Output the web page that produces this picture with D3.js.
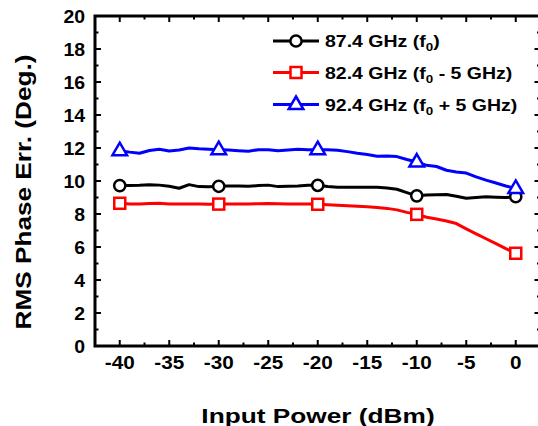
<!DOCTYPE html>
<html><head><meta charset="utf-8">
<script src="https://cdn.jsdelivr.net/npm/d3@7"></script>
<style>body{margin:0;background:#fff}svg{display:block}text{font-family:"Liberation Sans",Arial,sans-serif;font-weight:bold;fill:#000}</style>
</head><body><svg id="c" width="538" height="426"></svg>
<script>
const power = d3.range(-40, 1, 1);
const markerPower = [-40, -30, -20, -10, 0];
const black874 = [9.72,9.73,9.74,9.78,9.75,9.68,9.56,9.78,9.66,9.65,9.68,9.70,9.70,9.68,9.72,9.75,9.66,9.68,9.70,9.74,9.74,9.66,9.62,9.62,9.62,9.62,9.62,9.58,9.50,9.30,9.10,9.15,9.17,9.18,9.08,8.95,9.00,9.05,9.02,9.00,9.05];
const red824 = [8.65,8.60,8.60,8.63,8.65,8.60,8.60,8.60,8.60,8.59,8.60,8.60,8.60,8.61,8.62,8.64,8.62,8.60,8.60,8.60,8.59,8.56,8.53,8.50,8.47,8.44,8.40,8.34,8.25,8.10,7.98,7.80,7.70,7.58,7.42,7.10,6.80,6.50,6.20,5.90,5.62];
const blue924 = [11.84,11.75,11.68,11.85,11.93,11.82,11.88,12.0,11.95,11.92,11.90,11.88,11.84,11.80,11.90,11.90,11.84,11.88,11.92,11.90,11.90,11.90,11.86,11.78,11.68,11.60,11.50,11.52,11.48,11.30,11.15,10.95,10.88,10.65,10.55,10.48,10.25,10.05,9.88,9.70,9.55];
const xTicks = [-40,-35,-30,-25,-20,-15,-10,-5,0];
const yTicks = [0,2,4,6,8,10,12,14,16,18,20];
const seriesNames = ["87.4 GHz (f", "82.4 GHz (f", "92.4 GHz (f"];
const seriesSuffix = [")", " - 5 GHz)", " + 5 GHz)"];
const colors = ["#000000", "#ff0000", "#0000ff"];
const shapes = ["circle", "square", "triangle"];

const svg = d3.select("#c");
const L = 95, R = 540.5, T = 16, B = 346;
const x = d3.scaleLinear().domain([-42.5, 2.5]).range([L, R]);
const y = d3.scaleLinear().domain([0, 20]).range([B, T]);

// ticks (inward on all sides)
const g = svg.append("g").attr("stroke", "#000").attr("stroke-width", 2);
const xMinor = d3.range(-42.5, 2.6, 2.5);
xMinor.forEach(v => {
  const major = Math.abs(v % 5) < 1e-9;
  const len = major ? 6 : 3.5;
  g.append("line").attr("x1", x(v)).attr("x2", x(v)).attr("y1", B).attr("y2", B - len);
  g.append("line").attr("x1", x(v)).attr("x2", x(v)).attr("y1", T).attr("y2", T + len);
});
d3.range(0, 21, 1).forEach(v => {
  const major = v % 2 === 0;
  const len = major ? 6 : 3.5;
  g.append("line").attr("y1", y(v)).attr("y2", y(v)).attr("x1", L).attr("x2", L + len);
  g.append("line").attr("y1", y(v)).attr("y2", y(v)).attr("x1", R).attr("x2", R - len);
});
svg.append("rect").attr("x", L).attr("y", T).attr("width", R - L).attr("height", B - T)
  .attr("fill", "none").attr("stroke", "#000").attr("stroke-width", 3);

// tick labels
xTicks.forEach(v => {
  svg.append("text").attr("transform", `translate(${x(v)},369) scale(1.12,1)`)
    .attr("text-anchor", "middle").attr("font-size", 18.5).text(v);
});
yTicks.forEach(v => {
  svg.append("text").attr("transform", `translate(85,${y(v) + 6.5}) scale(1.08,1)`)
    .attr("text-anchor", "end").attr("font-size", 18).text(v);
});

// axis titles
svg.append("text").attr("transform", "translate(318,423) scale(1.25,1)")
  .attr("text-anchor", "middle").attr("font-size", 21).text("Input Power (dBm)");
svg.append("text").attr("transform", "translate(31,192) rotate(-90) scale(1.19,1)")
  .attr("text-anchor", "middle").attr("font-size", 22).text("RMS Phase Err. (Deg.)");

function marker(sel, shape, color, cx, cy) {
  if (shape === "circle") {
    sel.append("circle").attr("cx", cx).attr("cy", cy).attr("r", 5.6)
      .attr("fill", "#fff").attr("stroke", color).attr("stroke-width", 2.5);
  } else if (shape === "square") {
    sel.append("rect").attr("x", cx - 5.5).attr("y", cy - 5.5).attr("width", 11).attr("height", 11)
      .attr("fill", "#fff").attr("stroke", color).attr("stroke-width", 2.5);
  } else {
    sel.append("path").attr("d", `M${cx},${cy - 8} L${cx + 7.3},${cy + 4.5} L${cx - 7.3},${cy + 4.5} Z`)
      .attr("fill", "#fff").attr("stroke", color).attr("stroke-width", 2.5).attr("stroke-linejoin", "miter");
  }
}

const allSeries = [black874, red824, blue924];
const line = d3.line().x((d, i) => x(power[i])).y(d => y(d));
allSeries.forEach((s, k) => {
  svg.append("path").datum(s).attr("d", line).attr("fill", "none")
    .attr("stroke", colors[k]).attr("stroke-width", 3).attr("stroke-linejoin", "round");
});
allSeries.forEach((s, k) => {
  const mg = svg.append("g");
  markerPower.forEach(p => {
    const i = power.indexOf(p);
    marker(mg, shapes[k], colors[k], x(p), y(s[i]));
  });
});

// legend
const rows = [41, 72.5, 104.5];
rows.forEach((ry, k) => {
  svg.append("line").attr("x1", 273).attr("x2", 319).attr("y1", ry).attr("y2", ry)
    .attr("stroke", colors[k]).attr("stroke-width", 3);
  marker(svg, shapes[k], colors[k], 296, ry);
  const t = svg.append("text").attr("transform", `translate(325,${ry + 6}) scale(1.22,1)`).attr("font-size", 16);
  t.append("tspan").text(seriesNames[k]);
  t.append("tspan").attr("font-size", 11).attr("dy", 4).text("0");
  t.append("tspan").attr("dy", -4).text(seriesSuffix[k]);
});
</script></body></html>
